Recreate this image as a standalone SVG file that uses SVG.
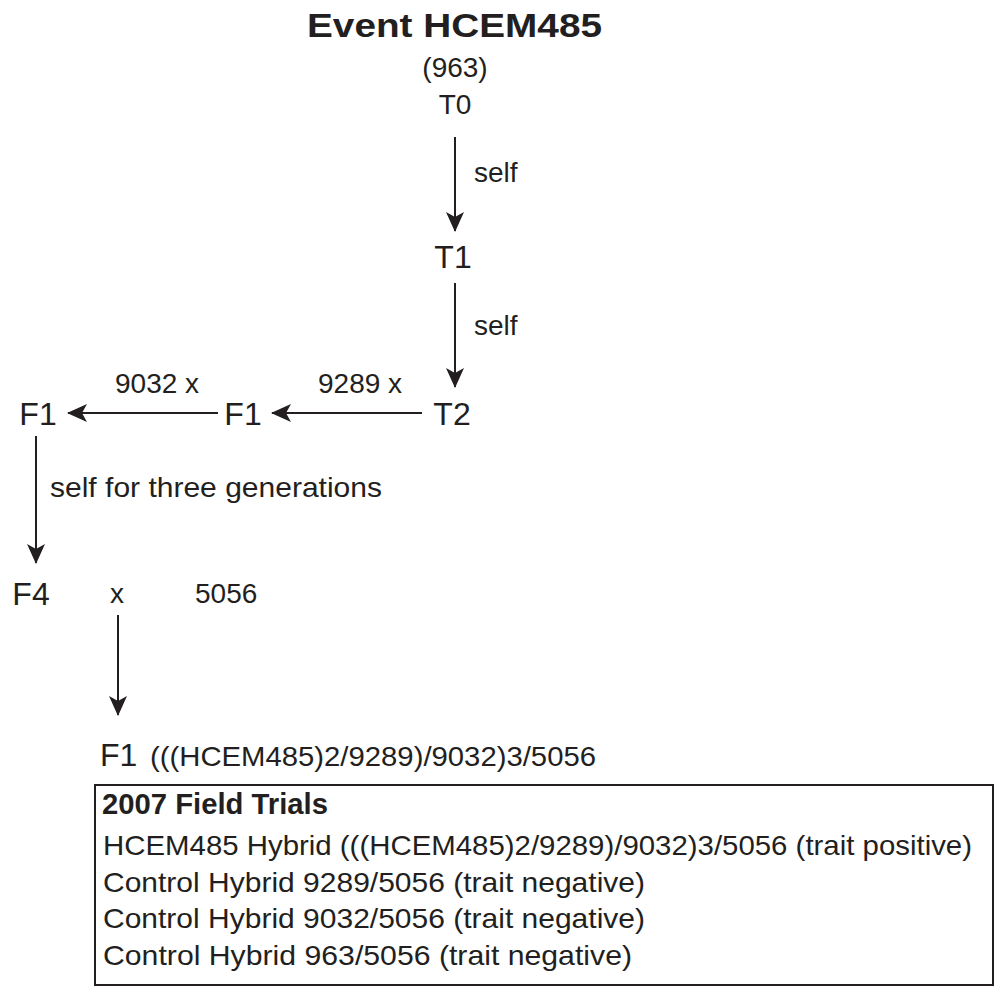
<svg xmlns="http://www.w3.org/2000/svg" width="997" height="991" viewBox="0 0 997 991">
<style>
text{font-family:"Liberation Sans",Arial,sans-serif;fill:#231f20}
.t{font-size:28px}
.n{font-size:32px}
.b{font-weight:bold}
.c{stroke:#231f20;stroke-width:2;fill:none}
</style>
<defs>
<marker id="ah" viewBox="0 0 20 20" refX="19" refY="10" markerWidth="20" markerHeight="20" markerUnits="userSpaceOnUse" orient="auto">
<path d="M0,1 L20,10 L0,19 L5,10 Z" fill="#231f20"/>
</marker>
</defs>
<rect width="997" height="991" fill="#fff"/>
<g id="title">
<text x="307" y="37" class="b" font-size="34" textLength="295" lengthAdjust="spacingAndGlyphs">Event HCEM485</text>
<text x="455" y="77" text-anchor="middle" class="t">(963)</text>
</g>
<g id="T0"><text x="455" y="114" text-anchor="middle" class="t">T0</text></g>
<g id="T1"><text x="453" y="268" text-anchor="middle" class="n">T1</text></g>
<g id="T2"><text x="452" y="425" text-anchor="middle" class="n">T2</text></g>
<g id="F1a"><text x="243" y="425" text-anchor="middle" class="n">F1</text></g>
<g id="F1b"><text x="38" y="425" text-anchor="middle" class="n">F1</text></g>
<g id="F4"><text x="31" y="605" text-anchor="middle" class="n">F4</text>
<text x="117" y="603" text-anchor="middle" class="t">x</text>
<text x="195" y="603" class="t">5056</text></g>
<g id="F1c"><text x="100" y="766" class="n">F1</text>
<text x="150" y="766" class="t" textLength="446" lengthAdjust="spacingAndGlyphs">(((HCEM485)2/9289)/9032)3/5056</text></g>
<g id="connectors">
<line class="c" x1="455" y1="137" x2="455" y2="231" marker-end="url(#ah)"/>
<text x="474" y="182" class="t">self</text>
<line class="c" x1="455" y1="283" x2="455" y2="387" marker-end="url(#ah)"/>
<text x="474" y="335" class="t">self</text>
<line class="c" x1="422" y1="413" x2="272" y2="413" marker-end="url(#ah)"/>
<text x="318" y="393" class="t">9289 x</text>
<line class="c" x1="218" y1="413" x2="68" y2="413" marker-end="url(#ah)"/>
<text x="115" y="393" class="t">9032 x</text>
<line class="c" x1="36" y1="436" x2="36" y2="563" marker-end="url(#ah)"/>
<text x="50" y="497" class="t" textLength="332" lengthAdjust="spacingAndGlyphs">self for three generations</text>
<line class="c" x1="118" y1="615" x2="118" y2="715" marker-end="url(#ah)"/>
</g>
<g id="trials">
<rect x="95" y="785" width="898" height="200" class="c"/>
<text x="102" y="814" class="b" font-size="29" textLength="226" lengthAdjust="spacingAndGlyphs">2007 Field Trials</text>
<text x="103" y="855" font-size="28" textLength="869" lengthAdjust="spacingAndGlyphs">HCEM485 Hybrid (((HCEM485)2/9289)/9032)3/5056 (trait positive)</text>
<text x="103" y="892" font-size="28" textLength="542" lengthAdjust="spacingAndGlyphs">Control Hybrid 9289/5056 (trait negative)</text>
<text x="103" y="928" font-size="28" textLength="542" lengthAdjust="spacingAndGlyphs">Control Hybrid 9032/5056 (trait negative)</text>
<text x="103" y="965" font-size="28" textLength="529" lengthAdjust="spacingAndGlyphs">Control Hybrid 963/5056 (trait negative)</text>
</g>
</svg>
